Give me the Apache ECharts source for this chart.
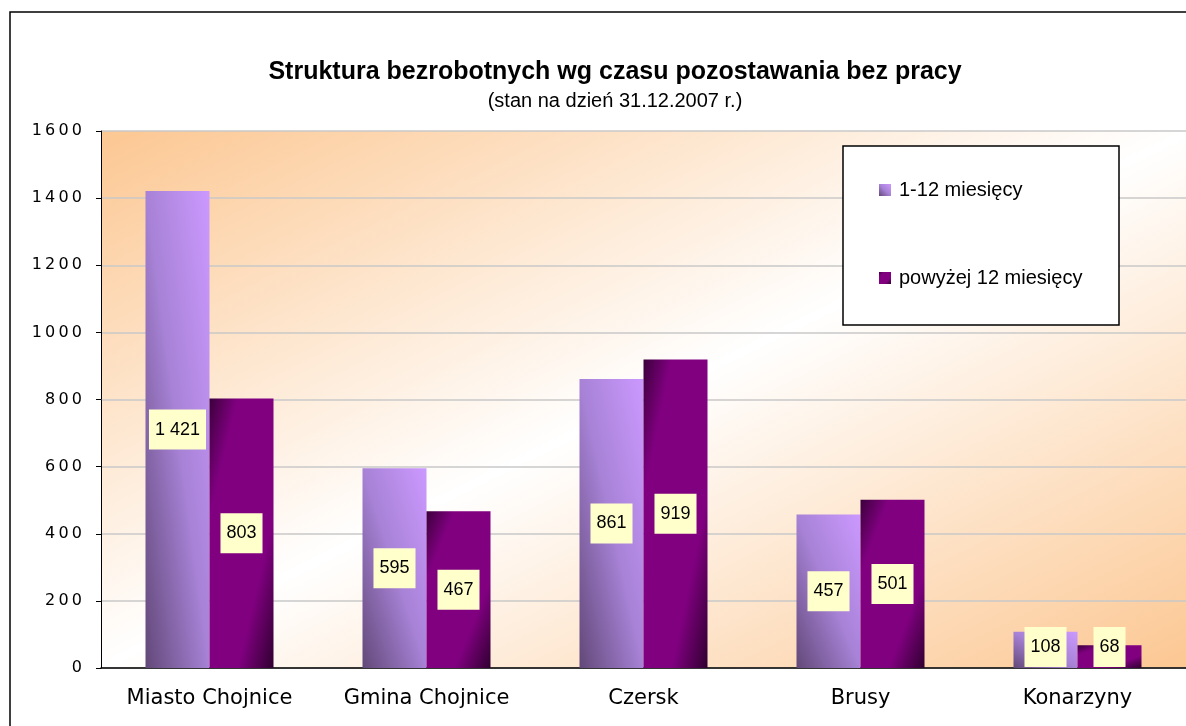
<!DOCTYPE html>
<html>
<head>
<meta charset="utf-8">
<script src="https://cdn.jsdelivr.net/npm/echarts@6/dist/echarts.min.js"></script>
<style>
  html, body { margin: 0; padding: 0; background: #fff; }
  #chart { width: 1186px; height: 726px; }
</style>
</head>
<body>
<div id="chart"></div>
<script>
const categories = ['Miasto Chojnice', 'Gmina Chojnice', 'Czersk', 'Brusy', 'Konarzyny']
const shortTerm = [1421, 595, 861, 457, 108]
const longTerm = [803, 467, 919, 501, 68]
const seriesNames = ['1-12 miesięcy', 'powyżej 12 miesięcy']
const titleText = 'Struktura bezrobotnych wg czasu pozostawania bez pracy'
const subtitleText = '(stan na dzień 31.12.2007 r.)'

const BAR_W = 64
const LABEL_FONT = 18
const LABEL_PAD_V = 11
const stopsShort = [
  { offset: 0, color: '#624878' },
  { offset: 0.5, color: '#a782d6' },
  { offset: 1, color: '#cc99ff' }
]
const stopsLong = [
  { offset: 0, color: '#3c003c' },
  { offset: 0.22, color: '#800080' },
  { offset: 0.72, color: '#800080' },
  { offset: 1, color: '#300030' }
]

// diagonal gradient across the bar's own box (isolines follow its diagonal)
const diagGradient = (h, w, stops, down) => {
  const L2 = h * h + w * w
  const q = h * h / L2
  const p = w * w / L2
  return down
    ? new echarts.graphic.LinearGradient(0.5 - q, 0.5 - p, 0.5 + q, 0.5 + p, stops)
    : new echarts.graphic.LinearGradient(0.5 - q, 0.5 + p, 0.5 + q, 0.5 - p, stops)
}

const fmt = (v) => String(v).replace(/\B(?=(\d{3})+(?!\d))/g, ' ')

const labelStyle = {
  show: true,
  position: 'inside',
  formatter: (p) => fmt(p.value),
  color: '#000',
  fontFamily: 'Liberation Sans, Arial, sans-serif',
  fontSize: LABEL_FONT,
  lineHeight: LABEL_FONT,
  backgroundColor: '#ffffcc',
  padding: [LABEL_PAD_V, 6]
}

const chart = echarts.init(document.getElementById('chart'))

chart.setOption({
  animation: false,
  backgroundColor: '#fff',
  title: {
    text: titleText,
    subtext: subtitleText,
    left: 610,
    textAlign: 'center',
    top: 55,
    itemGap: 6,
    textStyle: {
      fontFamily: 'Liberation Sans, Arial, sans-serif',
      fontSize: 25,
      fontWeight: 'bold',
      color: '#000'
    },
    subtextStyle: {
      fontFamily: 'Liberation Sans, Arial, sans-serif',
      fontSize: 20,
      color: '#000'
    }
  },
  legend: {
    orient: 'vertical',
    left: 879,
    top: 180,
    padding: 0,
    itemGap: 68,
    itemWidth: 12,
    itemHeight: 12,
    icon: 'rect',
    z: 10,
    textStyle: {
      fontFamily: 'Liberation Sans, Arial, sans-serif',
      fontSize: 20,
      lineHeight: 20,
      color: '#000',
      padding: [0, 0, 0, 3]
    },
    data: seriesNames
  },
  graphic: [
    {
      type: 'rect',
      z: 0,
      shape: { x: 10, y: 12, width: 1200, height: 740 },
      style: { fill: 'none', stroke: '#000', lineWidth: 1.5 }
    },
    {
      type: 'rect',
      z: 5,
      shape: { x: 843, y: 146, width: 276, height: 179 },
      style: { fill: '#fff', stroke: '#000', lineWidth: 1.5 }
    }
  ],
  grid: {
    left: 101,
    top: 131,
    width: 1090,
    height: 537,
    show: true,
    borderWidth: 0,
    backgroundColor: new echarts.graphic.LinearGradient(432, -33, 858, 832, [
      { offset: 0, color: '#fcc792' },
      { offset: 0.5, color: '#ffffff' },
      { offset: 1, color: '#fcc792' }
    ], true)
  },
  xAxis: {
    type: 'category',
    data: categories,
    axisLine: { lineStyle: { color: '#000', width: 1.5 } },
    axisTick: { length: 6, lineStyle: { color: '#000' } },
    axisLabel: {
      margin: 20,
      fontFamily: 'DejaVu Sans, Verdana, sans-serif',
      fontSize: 21,
      color: '#000'
    }
  },
  yAxis: {
    type: 'value',
    min: 0,
    max: 1600,
    interval: 200,
    axisLine: { show: true, lineStyle: { color: '#000' } },
    axisTick: { show: true, length: 5, lineStyle: { color: '#000' } },
    axisLabel: {
      margin: 19,
      fontFamily: 'DejaVu Sans, Verdana, sans-serif',
      fontSize: 16,
      color: '#000',
      formatter: (v) => String(v).split('').join('\u2009')
    },
    splitLine: { lineStyle: { color: '#c8c8c8', width: 1.5 } }
  },
  series: [
    {
      name: seriesNames[0],
      type: 'bar',
      barWidth: BAR_W,
      barGap: '0%',
      itemStyle: { color: new echarts.graphic.LinearGradient(0, 1, 1, 0, stopsShort) },
      label: labelStyle,
      data: shortTerm
    },
    {
      name: seriesNames[1],
      type: 'bar',
      barWidth: BAR_W,
      barGap: '0%',
      itemStyle: { color: new echarts.graphic.LinearGradient(0, 0, 1, 1, stopsLong) },
      label: labelStyle,
      data: longTerm
    }
  ]
})

// second pass: per-bar gradients sized from the axis scale, and label boxes
// lifted so that they never hang below the axis on short bars
const barHeight = (v) => chart.convertToPixel({ yAxisIndex: 0 }, 0) - chart.convertToPixel({ yAxisIndex: 0 }, v)
const halfBox = LABEL_FONT / 2 + LABEL_PAD_V
const item = (v, stops, down) => {
  const h = barHeight(v)
  const lift = Math.max(0, halfBox - h / 2 + 1)
  return {
    value: v,
    itemStyle: { color: diagGradient(h, BAR_W, stops, down) },
    label: { offset: [0, -lift] }
  }
}
chart.setOption({
  series: [
    { data: shortTerm.map(v => item(v, stopsShort, false)) },
    { data: longTerm.map(v => item(v, stopsLong, true)) }
  ]
})

window.addEventListener('resize', () => chart.resize())
</script>
</body>
</html>
